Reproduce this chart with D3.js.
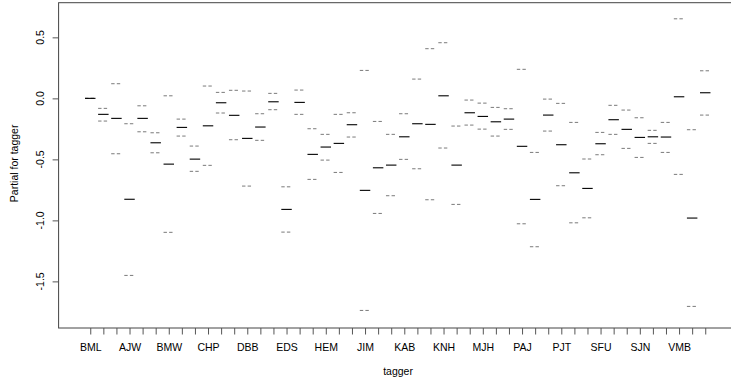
<!DOCTYPE html>
<html>
<head>
<meta charset="utf-8">
<script src="https://cdn.jsdelivr.net/npm/d3@7"></script>
<style>
  html, body { margin: 0; padding: 0; background: #fff; }
  svg { display: block; font-family: "Liberation Sans", Arial, sans-serif; }
</style>
</head>
<body>
<svg id="chart" width="731" height="385"></svg>
<script>
// Factor levels (BML is the reference level); only every third label is drawn, as in R
const categories = ["BML","AAM","ADH","AJW","AMB","BFR","BMW","CAL","CGB","CHP","CPS","DAH",
  "DBB","DJS","EAB","EDS","GRT","HAS","HEM","IBG","JCM","JIM","JMT","JWP",
  "KAB","KCH","KLH","KNH","LCD","MBP","MJH","MWL","NEH","PAJ","PDS","PHB",
  "PJT","RBF","SBC","SFU","SHG","SJB","SJN","TEM","TLR","VMB","WFB","WPH"];

// Partial effect for each level
const estimate = [0, -0.131, -0.164, -0.827, -0.164, -0.364, -0.539, -0.238, -0.498, -0.225, -0.036, -0.139,
  -0.328, -0.235, -0.028, -0.910, -0.033, -0.459, -0.399, -0.369, -0.216, -0.754, -0.569, -0.547,
  -0.315, -0.208, -0.213, 0.021, -0.547, -0.118, -0.148, -0.192, -0.170, -0.393, -0.828, -0.137,
  -0.380, -0.610, -0.738, -0.372, -0.175, -0.254, -0.320, -0.315, -0.317, 0.013, -0.981, 0.046];

// Upper and lower (±2 se) bands
const upper = [0, -0.082, 0.120, -0.208, -0.061, -0.282, 0.021, -0.170, -0.391, 0.101, 0.049, 0.066,
  0.060, -0.126, 0.041, -0.725, 0.068, -0.249, -0.295, -0.131, -0.118, 0.229, -0.189, -0.295,
  -0.126, 0.158, 0.407, 0.456, -0.227, -0.014, -0.039, -0.074, -0.085, 0.238, -0.443, -0.006,
  -0.041, -0.197, -0.497, -0.279, -0.057, -0.096, -0.159, -0.262, -0.197, 0.652, -0.257, 0.226];

const lower = [0, -0.186, -0.454, -1.451, -0.274, -0.446, -1.098, -0.309, -0.598, -0.549, -0.120, -0.339,
  -0.719, -0.344, -0.093, -1.096, -0.131, -0.664, -0.506, -0.607, -0.317, -1.738, -0.943, -0.798,
  -0.500, -0.577, -0.831, -0.407, -0.869, -0.219, -0.252, -0.309, -0.254, -1.028, -1.216, -0.268,
  -0.716, -1.020, -0.979, -0.462, -0.295, -0.410, -0.484, -0.369, -0.443, -0.623, -1.705, -0.137];

const yTicks = [-1.5, -1.0, -0.5, 0.0, 0.5];
const xTitle = "tagger";
const yTitle = "Partial for tagger";

const svg = d3.select("#chart");
const plot = { left: 58.6, right: 736.9, top: 2.7, bottom: 328 };

const n = categories.length;
const x = d3.scaleLinear().domain([0.5 - 0.04 * n, n + 0.5 + 0.04 * n]).range([plot.left, plot.right]);
const y = d3.scaleLinear().domain([-1.882, 0.784]).range([plot.bottom, plot.top]);

const rows = categories.map((c, i) => ({ c, j: i + 1, est: estimate[i], up: upper[i], lo: lower[i] }));

const clip = svg.append("clipPath").attr("id", "clipv")
  .append("rect").attr("x", 0).attr("y", 0).attr("width", 731).attr("height", 385);

// Standard-error bands (dashed)
const g = svg.append("g");
["up", "lo"].forEach(k => {
  g.selectAll("line.se-" + k).data(rows).join("line")
    .attr("class", "se-" + k)
    .attr("x1", d => x(d.j - 0.4)).attr("x2", d => x(d.j + 0.4))
    .attr("y1", d => y(d[k])).attr("y2", d => y(d[k]))
    .attr("stroke", "#7a7a7a").attr("stroke-width", 1)
    .attr("stroke-dasharray", "3.4,2.2");
});

// Term estimates
g.selectAll("line.est").data(rows).join("line")
  .attr("class", "est")
  .attr("x1", d => x(d.j - 0.4)).attr("x2", d => x(d.j + 0.4))
  .attr("y1", d => y(d.est)).attr("y2", d => y(d.est))
  .attr("stroke", "#000").attr("stroke-width", 1.1);

// Box
svg.append("rect")
  .attr("x", plot.left).attr("y", plot.top)
  .attr("width", plot.right - plot.left).attr("height", plot.bottom - plot.top)
  .attr("fill", "none").attr("stroke", "#444").attr("stroke-width", 1);

// X axis
const xAxis = d3.axisBottom(x)
  .tickValues(d3.range(1, n + 1))
  .tickSize(6.5).tickPadding(9.5)
  .tickFormat(j => ((j - 1) % 3 === 0 ? categories[j - 1] : ""));
const gx = svg.append("g").attr("transform", `translate(0,${plot.bottom})`).call(xAxis);
gx.select(".domain").remove();
gx.selectAll(".tick line").attr("stroke", "#555");
gx.selectAll(".tick text").attr("fill", "#000").style("font-size", "10.5px")
  .style("font-family", "'Liberation Sans', Arial, sans-serif");

// Y axis
const yAxis = d3.axisLeft(y).tickValues(yTicks).tickSize(6).tickFormat(() => "");
const gy = svg.append("g").attr("transform", `translate(${plot.left},0)`).call(yAxis);
gy.select(".domain").remove();
gy.selectAll(".tick line").attr("stroke", "#555");
svg.append("g").selectAll("text").data(yTicks).join("text")
  .attr("transform", d => `translate(44,${y(d)}) rotate(-90)`)
  .attr("text-anchor", "middle")
  .style("font-size", "10.5px").attr("fill", "#000")
  .text(d => d.toFixed(1));

// Titles
svg.append("text")
  .attr("x", (plot.left + plot.right) / 2 + 0.3).attr("y", 375)
  .attr("text-anchor", "middle").style("font-size", "10.5px").attr("fill", "#000")
  .text(xTitle);
svg.append("text")
  .attr("transform", `translate(18,${(plot.top + plot.bottom) / 2 - 2}) rotate(-90)`)
  .attr("text-anchor", "middle").style("font-size", "10.5px").attr("fill", "#000")
  .text(yTitle);
</script>
</body>
</html>
